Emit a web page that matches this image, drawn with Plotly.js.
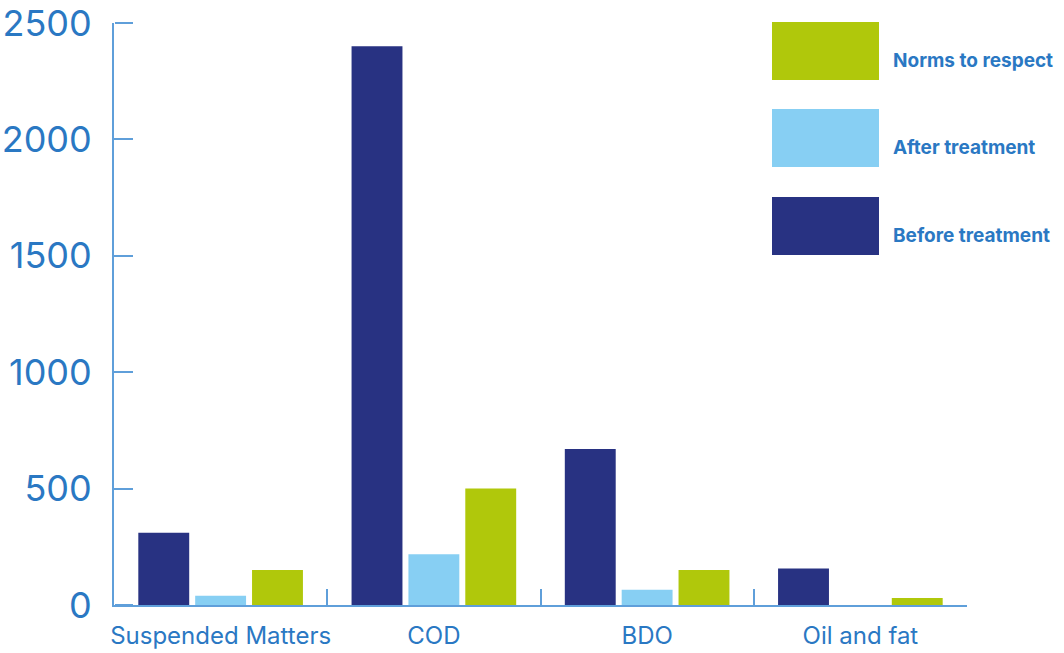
<!DOCTYPE html>
<html>
<head>
<meta charset="utf-8">
<script src="https://cdn.plot.ly/plotly-3.0.1.min.js"></script>
<style>html,body{margin:0;padding:0;background:#fff;}#chart{width:1064px;height:653px;}</style>
</head>
<body>
<div id="chart"></div>
<script>
const categories = ["Suspended Matters", "COD", "BDO", "Oil and fat"];
const seriesNames = ["Before treatment", "After treatment", "Norms to respect"];
const beforeTreatment = [310, 2400, 670, 157];
const afterTreatment = [40, 218, 65, 0];
const normsToRespect = [150, 500, 150, 30];
const yTicks = [0, 500, 1000, 1500, 2000, 2500];

const colors = ["#283282", "#87cff3", "#b0c80b"];
const textColor = "#2a78c3";
const lineColor = "#5f9fda";

const values = [beforeTreatment, afterTreatment, normsToRespect];
const data = values.map((v, i) => ({
  type: "bar",
  name: seriesNames[i],
  x: categories,
  y: v,
  marker: {color: colors[i]},
  showlegend: false,
  hoverinfo: "x+y+name"
}));
// invisible helper trace so the tick-mark axis (y2) is drawn
data.push({
  type: "scatter", mode: "markers", x: [categories[0]], y: [yTicks[0]],
  yaxis: "y2", marker: {opacity: 0, size: 1}, showlegend: false, hoverinfo: "skip"
});

// custom legend (large swatches), ordered top to bottom: Norms, After, Before
const legendOrder = [2, 1, 0];
const shapes = [];
const annotations = [];
const boxTop = [22, 109, 197];
const boxH = 58;
legendOrder.forEach((si, k) => {
  shapes.push({
    type: "rect", xref: "paper", yref: "paper",
    x0: (772 - 114) / 853, x1: (879 - 114) / 853,
    y0: (605 - boxTop[k]) / 582, y1: (605 - boxTop[k] - boxH) / 582,
    fillcolor: colors[si], line: {width: 0}
  });
  annotations.push({
    xref: "paper", yref: "paper",
    x: (891 - 114) / 853, y: (605 - (boxTop[k] + 38)) / 582,
    xanchor: "left", yanchor: "middle",
    text: seriesNames[si], showarrow: false,
    font: {family: "Inter, 'Open Sans', sans-serif", size: 19, color: textColor, weight: 700}
  });
});

const layout = {
  width: 1064, height: 653,
  margin: {l: 114, r: 97, t: 23, b: 48, pad: 0},
  paper_bgcolor: "#ffffff", plot_bgcolor: "#ffffff",
  barmode: "group",
  bargap: 0.2,
  bargroupgap: 0.105,
  showlegend: false,
  xaxis: {
    type: "category",
    range: [-0.5, 3.5],
    automargin: false,
    tickangle: 0,
    showline: true, linecolor: lineColor, linewidth: 2,
    ticks: "inside", tickson: "boundaries", ticklen: 16, tickwidth: 2, tickcolor: lineColor,
    showgrid: false, zeroline: false,
    tickfont: {family: "Inter, 'Open Sans', sans-serif", size: 24, color: textColor},
    ticklabelstandoff: 8
  },
  yaxis: {
    range: [0, 2500],
    automargin: false,
    tickmode: "array",
    tickvals: yTicks,
    ticktext: yTicks.map(String),
    ticklabeloverflow: "allow",
    showline: true, linecolor: lineColor, linewidth: 2,
    ticks: "inside", ticklen: 18, tickwidth: 2, tickcolor: lineColor,
    showgrid: false, zeroline: false,
    tickfont: {family: "Inter, 'Open Sans', sans-serif", size: 36, color: textColor, weight: 400},
    ticklabelstandoff: 13
  },
  yaxis2: {
    overlaying: "y",
    anchor: "free",
    position: 0,
    side: "right",
    range: [0, 2500],
    automargin: false,
    tickmode: "array",
    tickvals: yTicks,
    showticklabels: false,
    showline: false,
    ticks: "outside", ticklen: 18, tickwidth: 2, tickcolor: lineColor,
    showgrid: false, zeroline: false
  },
  shapes: shapes,
  annotations: annotations,
  font: {family: "Inter, sans-serif", color: textColor}
};

Plotly.newPlot("chart", data, layout, {displayModeBar: false, staticPlot: true});
</script>
</body>
</html>
